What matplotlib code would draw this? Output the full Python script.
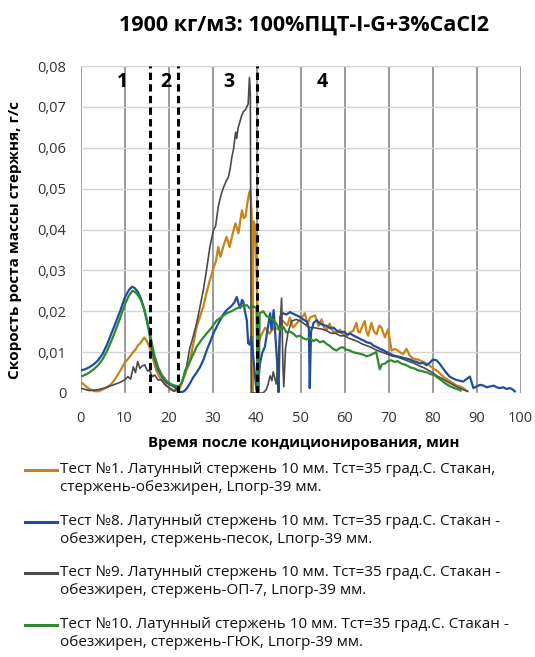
import matplotlib
matplotlib.use("Agg")
import matplotlib.pyplot as plt
from matplotlib.lines import Line2D

plt.rcParams['font.family'] = ['Open Sans', 'DejaVu Sans']

title = "1900 кг/м3: 100%ПЦТ-I-G+3%CaCl2"
xlabel = "Время после кондиционирования, мин"
ylabel = "Скорость роста массы стержня, г/с"
xticks = [0, 10, 20, 30, 40, 50, 60, 70, 80, 90, 100]
yticks = [0, 0.01, 0.02, 0.03, 0.04, 0.05, 0.06, 0.07, 0.08]
ytick_labels = ["0", "0,01", "0,02", "0,03", "0,04", "0,05", "0,06", "0,07", "0,08"]
zone_bounds = [15.8, 22.2, 40.2]
zone_names = ["1", "2", "3", "4"]
zone_label_x = [9.5, 19.4, 33.8, 55.0]

labels = [
    "Тест №1. Латунный стержень 10 мм. Тст=35 град.С. Стакан,\nстержень-обезжирен, Lпогр-39 мм.",
    "Тест №8. Латунный стержень 10 мм. Тст=35 град.С. Стакан -\nобезжирен, стержень-песок, Lпогр-39 мм.",
    "Тест №9. Латунный стержень 10 мм. Тст=35 град.С. Стакан -\nобезжирен, стержень-ОП-7, Lпогр-39 мм.",
    "Тест №10. Латунный стержень 10 мм. Тст=35 град.С. Стакан -\nобезжирен, стержень-ГЮК, Lпогр-39 мм.",
]
colors = ["#C8831A", "#1F4E9C", "#4A4A4A", "#2F8A2F"]

# Test 1 (orange)
t1_x = [0, 1, 2, 3, 4, 5, 6, 7, 8, 9, 10, 11, 12, 12.5, 13, 13.5, 14, 14.5, 15, 15.7, 16.5, 17.2, 18, 19, 20, 21, 22,
        22.6, 23.5, 24.2, 24.9, 25.6, 26.4, 27.2, 27.9, 28.6, 29.4, 30.2, 30.8, 31.3, 31.8, 32.5, 33.2, 33.9, 34.5,
        35.2, 35.9, 36.3, 36.7, 37.1, 37.5, 37.9, 38.3, 38.6, 38.9, 39.1, 39.3, 39.7, 40.0, 40.4, 41, 42, 43, 44, 45,
        46, 47, 47.6, 48.3, 49.1, 50, 51, 51.6, 52.2, 53.3, 54.1, 54.8, 55.4, 56, 56.6, 57.4, 58.2, 59, 59.7, 60.5,
        61.2, 62, 62.7, 63.1, 63.5, 64.1, 64.6, 65, 65.4, 66.1, 66.7, 67.3, 67.9, 68.4, 69.2, 69.9, 70.3, 70.7, 71.5,
        72.6, 73.3, 74.1, 74.8, 75.6, 76.7, 77.9, 79, 80.2, 81.3, 82.4, 83.5, 84.7, 85.5, 86.3, 87, 87.8]
t1_y = [0.0028, 0.0018, 0.0010, 0.0005, 0.0004, 0.0008, 0.0014, 0.0022, 0.0036, 0.0054, 0.0073, 0.0086, 0.0100,
        0.0106, 0.0116, 0.0121, 0.0128, 0.0136, 0.0128, 0.0113, 0.0083, 0.0056, 0.0038, 0.0024, 0.0014, 0.0008,
        0.0005, 0.0013, 0.0038, 0.0058, 0.0081, 0.0118, 0.0162, 0.0188, 0.0211, 0.0243, 0.0276, 0.0305, 0.0323,
        0.0357, 0.0333, 0.0360, 0.0382, 0.0357, 0.0386, 0.0415, 0.0391, 0.0420, 0.0447, 0.0428, 0.0431, 0.0463,
        0.0488, 0.0496, 0.0440, 0.0, 0.0420, 0.0410, 0.0300, 0.0120, 0.0140, 0.0160, 0.0145, 0.0162, 0.0155,
        0.0176, 0.0165, 0.0185, 0.0160, 0.0170, 0.0180, 0.0195, 0.0168, 0.0185, 0.0190, 0.0164, 0.0180, 0.0160,
        0.0156, 0.0170, 0.0150, 0.0148, 0.0155, 0.0142, 0.0140, 0.0148, 0.0152, 0.0172, 0.0150, 0.0148, 0.0165,
        0.0176, 0.0150, 0.0140, 0.0172, 0.0150, 0.0144, 0.0165, 0.0160, 0.0136, 0.0156, 0.0130, 0.0104, 0.0108,
        0.0100, 0.0095, 0.0108, 0.0092, 0.0084, 0.0082, 0.0076, 0.0070, 0.0060, 0.0052, 0.0040, 0.0032, 0.0024,
        0.0018, 0.0016, 0.0012, 0.0005]

# Test 8 (blue)
t8_x = [0, 1, 2, 3, 4, 5, 6, 7, 8, 9, 10, 11, 11.7, 12.3, 13, 13.7, 14.4, 15, 15.6, 16.1, 16.8, 17.6, 18.5, 19.5,
        20.5, 21.5, 22.2, 22.8, 23.5, 24.2, 24.9, 25.6, 26.4, 27.2, 28, 28.7, 29.5, 30.2, 31, 31.7, 32.5, 33.2,
        33.8, 34.4, 35, 35.5, 36, 36.3, 36.7, 37, 37.4, 37.8, 38.1, 38.5, 38.8, 39.2, 39.6, 40, 40.4, 40.8, 41.3,
        41.9, 42.4, 43.1, 43.4, 43.9, 44.3, 44.7, 45.0, 45.4, 46.1, 46.8, 47.6, 48.3, 49.1, 49.9, 50.6, 51.4, 51.9,
        52.1, 52.4, 53, 53.7, 54.4, 55.2, 56, 56.8, 57.5, 58.3, 59.1, 59.9, 60.6, 61.4, 62.1, 62.9, 63.6, 64.4, 65.1,
        65.9, 66.6, 67.4, 68.1, 68.9, 69.6, 70.4, 71.1, 71.9, 72.6, 73.4, 74.1, 74.9, 75.6, 76.4, 77.1, 77.9, 78.6,
        79.4, 80.1, 80.9, 81.6, 82.4, 83.1, 83.9, 84.6, 85.4, 86.2, 87, 87.7, 88.5, 89.3, 90, 90.8, 91.6, 92.3,
        93.1, 93.9, 94.6, 95.3, 96.1, 96.8, 97.6, 98.3, 98.7]
t8_y = [0.0055, 0.0058, 0.0063, 0.0070, 0.0080, 0.0095, 0.0118, 0.0145, 0.0172, 0.0200, 0.0232, 0.0252, 0.0260,
        0.0257, 0.0248, 0.0232, 0.0208, 0.0180, 0.0150, 0.0115, 0.0085, 0.0058, 0.0040, 0.0026, 0.0020, 0.0014,
        0.0006, 0.0002, 0.0004, 0.0012, 0.0024, 0.0038, 0.0050, 0.0064, 0.0083, 0.0105, 0.0126, 0.0146, 0.0163,
        0.0178, 0.0193, 0.0203, 0.0208, 0.0214, 0.0222, 0.0235, 0.0216, 0.0208, 0.0228, 0.0224, 0.0198, 0.0178,
        0.0122, 0.0118, 0.0138, 0.0098, 0.0048, 0.0005, 0.0030, 0.0073, 0.0098, 0.0113, 0.0148, 0.0195, 0.0155,
        0.0203, 0.0138, 0.0073, 0.0002, 0.0187, 0.0195, 0.0192, 0.0198, 0.0194, 0.0190, 0.0186, 0.0180, 0.0175,
        0.0160, 0.0012, 0.0150, 0.0172, 0.0178, 0.0170, 0.0166, 0.0164, 0.0158, 0.0160, 0.0152, 0.0148, 0.0150,
        0.0143, 0.0145, 0.0140, 0.0136, 0.0132, 0.0128, 0.0124, 0.0122, 0.0116, 0.0112, 0.0108, 0.0104, 0.0100,
        0.0096, 0.0092, 0.0090, 0.0088, 0.0086, 0.0084, 0.0082, 0.0078, 0.0076, 0.0072, 0.0074, 0.0068, 0.0074,
        0.0082, 0.0080, 0.0072, 0.0060, 0.0050, 0.0040, 0.0036, 0.0032, 0.0030, 0.0028, 0.0034, 0.0040, 0.0012,
        0.0016, 0.0020, 0.0018, 0.0014, 0.0016, 0.0018, 0.0014, 0.0012, 0.0014, 0.0010, 0.0012, 0.0008, 0.0004]

# Test 9 (grey)
t9_x = [0, 2, 4, 6, 7, 8, 9, 10, 10.8, 11.4, 12, 12.5, 13, 13.5, 14, 14.6, 15.2, 15.7, 16.3, 16.9, 17.6, 18.4,
        19.2, 20, 20.6, 21.3, 21.9, 22.6, 23.3, 24.1, 24.8, 25.6, 26.4, 27.2, 27.9, 28.6, 29.4, 30.2, 30.7, 31.3,
        31.9, 32.5, 33.1, 33.6, 34.0, 34.4, 34.8, 35.1, 35.3, 35.5, 35.8, 36.3, 36.6, 37, 37.5, 38.1, 38.4, 38.6,
        38.8, 39.5, 40.5, 41.5, 42.2, 42.6, 43.1, 43.5, 43.8, 44.2, 44.5, 45.1, 45.7, 46.0, 46.2, 46.6, 47.2, 48,
        49, 50, 51, 52, 53, 54, 55, 56, 57, 58, 59, 60, 61, 62, 63, 64, 65, 66, 67, 68, 69, 70, 71, 72, 73, 74, 75,
        76, 77, 78, 79, 80, 81, 82, 83, 84, 85, 86, 87, 88]
t9_y = [0.0012, 0.0006, 0.0008, 0.0014, 0.0018, 0.0022, 0.0026, 0.0032, 0.0040, 0.0034, 0.0064, 0.0050, 0.0077,
        0.0060, 0.0066, 0.0069, 0.0054, 0.0056, 0.0040, 0.0044, 0.0032, 0.0032, 0.0020, 0.0014, 0.0008, 0.0004,
        0.0010, 0.0018, 0.0034, 0.0064, 0.0108, 0.0138, 0.0171, 0.0213, 0.0251, 0.0298, 0.0357, 0.0398, 0.0408,
        0.0455, 0.0483, 0.0503, 0.0518, 0.0528, 0.0548, 0.0577, 0.0598, 0.0625, 0.0638, 0.0623, 0.0648, 0.0666,
        0.0678, 0.0688, 0.0693, 0.0707, 0.0772, 0.0730, 0.0, 0.0, 0.0, 0.0, 0.0008, 0.0020, 0.0042, 0.0030, 0.0052,
        0.0034, 0.0022, 0.0110, 0.0232, 0.0070, 0.0015, 0.0110, 0.0150, 0.0176, 0.0180, 0.0176, 0.0168, 0.0160,
        0.0160, 0.0158, 0.0156, 0.0152, 0.0146, 0.0146, 0.0140, 0.0140, 0.0134, 0.0130, 0.0126, 0.0120, 0.0116,
        0.0112, 0.0106, 0.0102, 0.0098, 0.0094, 0.0090, 0.0088, 0.0084, 0.0080, 0.0076, 0.0072, 0.0066, 0.0062,
        0.0056, 0.0050, 0.0042, 0.0036, 0.0030, 0.0024, 0.0018, 0.0013, 0.0008, 0.0004]

# Test 10 (green)
t10_x = [0, 1, 2, 3, 4, 5, 6, 7, 8, 9, 10, 11, 11.8, 12.4, 13, 13.7, 14.4, 15, 15.6, 16.2, 16.8, 17.6, 18.5, 19.5,
         20.5, 21.5, 22.3, 23, 23.8, 24.6, 25.5, 26.4, 27.5, 28.7, 29.8, 31, 32.1, 33.2, 34.3, 35.5, 36.6, 37.8,
         38.6, 39.3, 40, 40.3, 40.5, 40.7, 41.5, 42.3, 43.1, 43.9, 44.6, 45.3, 46.1, 46.8, 47.6, 48.3, 49.1, 49.9,
         50.6, 51.3, 52.1, 52.9, 53.6, 54.4, 55.2, 55.9, 56.7, 57.4, 58.2, 58.9, 59.6, 60.4, 61.2, 61.9, 62.7, 63.5,
         64.2, 65, 65.7, 66.5, 67.2, 67.6, 68, 68.5, 69.2, 69.9, 70.6, 71.4, 72.1, 72.9, 73.6, 74.4, 75.1, 75.9,
         76.6, 77.4, 78.1, 78.9, 79.6, 80.4, 81.1, 81.9, 82.6, 83.4, 84.1, 84.9, 85.6, 86.4]
t10_y = [0.0040, 0.0044, 0.0050, 0.0058, 0.0068, 0.0082, 0.0102, 0.0127, 0.0154, 0.0183, 0.0215, 0.0238, 0.0250,
         0.0247, 0.0240, 0.0228, 0.0208, 0.0184, 0.0156, 0.0122, 0.0092, 0.0064, 0.0044, 0.0030, 0.0022, 0.0018,
         0.0016, 0.0024, 0.0056, 0.0070, 0.0092, 0.0113, 0.0130, 0.0146, 0.0160, 0.0178, 0.0186, 0.0195, 0.0200,
         0.0207, 0.0212, 0.0215, 0.0206, 0.0212, 0.0208, 0.0, 0.0, 0.0195, 0.0200, 0.0188, 0.0184, 0.0178, 0.0168,
         0.0155, 0.0162, 0.0148, 0.0150, 0.0146, 0.0138, 0.0140, 0.0134, 0.0131, 0.0135, 0.0127, 0.0131, 0.0124,
         0.0127, 0.0120, 0.0115, 0.0108, 0.0104, 0.0110, 0.0112, 0.0106, 0.0104, 0.0100, 0.0098, 0.0096, 0.0094,
         0.0090, 0.0092, 0.0096, 0.0100, 0.0080, 0.0058, 0.0070, 0.0072, 0.0078, 0.0080, 0.0076, 0.0078, 0.0072,
         0.0070, 0.0066, 0.0062, 0.0060, 0.0056, 0.0054, 0.0052, 0.0050, 0.0046, 0.0044, 0.0038, 0.0032, 0.0026,
         0.0020, 0.0016, 0.0012, 0.0010, 0.0006]

series_x = [t1_x, t8_x, t9_x, t10_x]
series_y = [t1_y, t8_y, t9_y, t10_y]
widths = [1.6, 1.6, 1.2, 1.6]
draw_order = [2, 1, 0, 3]

W, H = 535, 657
fig = plt.figure(figsize=(W / 100, H / 100), dpi=100)
ax = fig.add_axes([80.5 / W, 1 - 393 / H, 440 / W, 327 / H])

for i in draw_order:
    ax.plot(series_x[i], series_y[i], color=colors[i], lw=widths[i], zorder=3 + i * 0.1)

for xb in zone_bounds:
    ax.axvline(xb, color="black", lw=2.2, linestyle=(0, (2.4, 1.4)), zorder=6)

for xl, nm in zip(zone_label_x, zone_names):
    ax.text(xl, 0.0762, nm, ha="center", va="center", fontsize=14, fontweight="bold", zorder=7)

ax.set_xlim(0, 100)
ax.set_ylim(0, 0.08)
ax.set_xticks(xticks)
ax.set_yticks(yticks)
ax.set_yticklabels(ytick_labels)
ax.tick_params(length=0, labelsize=10.5, colors="#333333", pad=10)
ax.tick_params(axis="x", pad=13)
ax.grid(axis="y", color="#d4d4d4", lw=1.0, zorder=0)
ax.grid(axis="x", color="#8a8a8a", lw=1.2, zorder=0)
for s in ax.spines.values():
    s.set_visible(False)

fig.text(304 / W, 1 - 25 / H, title, ha="center", va="center", fontsize=15.5, fontweight="bold")
fig.text(304 / W, 1 - 443 / H, xlabel, ha="center", va="center", fontsize=10.8, fontweight="bold")
fig.text(15 / W, 1 - 240 / H, ylabel, ha="center", va="center", rotation=90, fontsize=11, fontweight="bold")

row_y = [470, 521.7, 572.7, 625]
for i, ry in enumerate(row_y):
    fig.add_artist(Line2D([25 / W, 57 / W], [1 - ry / H, 1 - ry / H], color=colors[i], lw=2.2,
                          transform=fig.transFigure))
    fig.text(60 / W, 1 - (ry - 8) / H, labels[i], ha="left", va="top", fontsize=11,
             linespacing=1.3, color="#111111")

fig.savefig("out.png", dpi=100)
